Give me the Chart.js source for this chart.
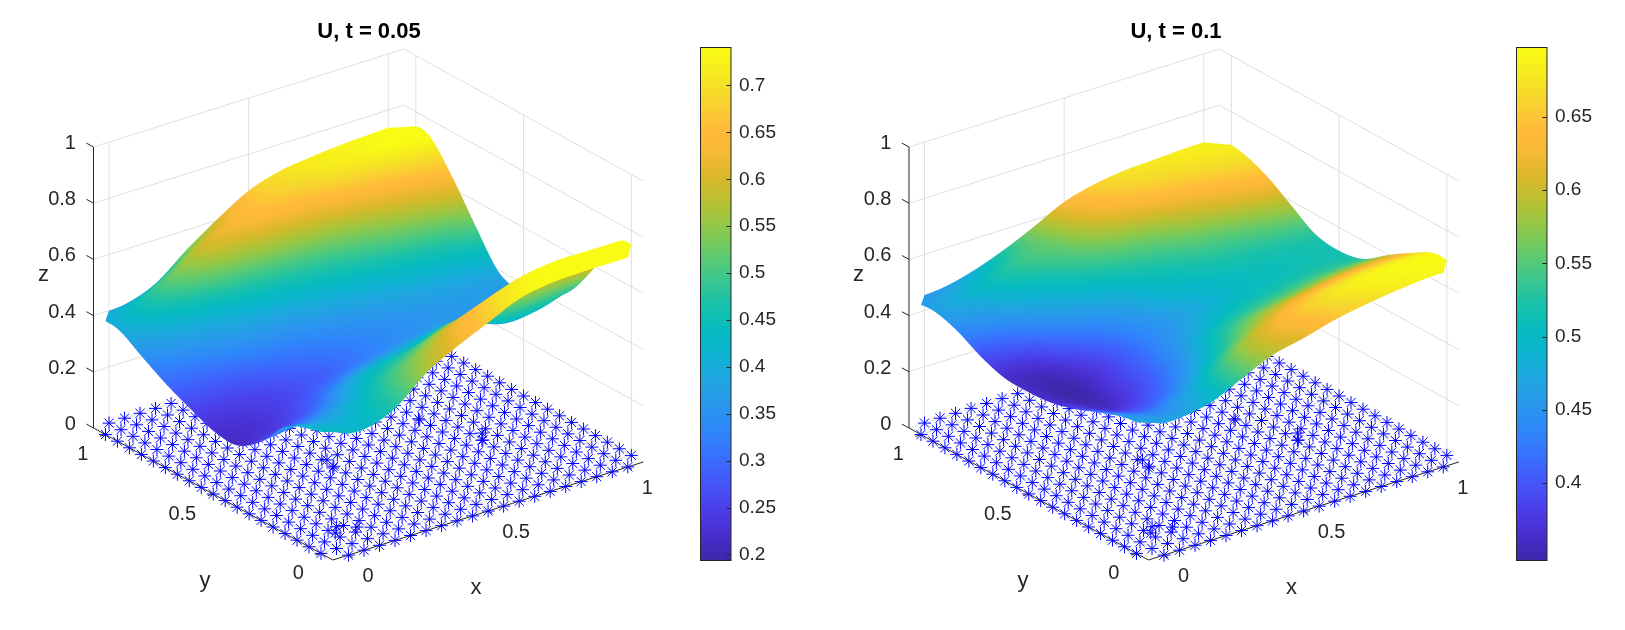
<!DOCTYPE html>
<html><head><meta charset="utf-8">
<script src="https://cdn.jsdelivr.net/npm/chart.js@4/dist/chart.umd.min.js"></script>
<style>
html,body{margin:0;padding:0;background:#fff;width:1625px;height:630px;overflow:hidden}
canvas{position:absolute}
</style></head><body>
<canvas id="p1" width="700" height="630" style="left:0;top:0;width:700px;height:630px"></canvas>
<canvas id="p2" width="700" height="630" style="left:815px;top:0;width:700px;height:630px"></canvas>
<canvas id="c1" width="110" height="514" style="left:700px;top:47px;width:110px;height:514px"></canvas>
<canvas id="c2" width="109" height="514" style="left:1516px;top:47px;width:109px;height:514px"></canvas>
<script>
const axisLimits=[-0.0556,1.0556];
const xyTicks=[0,0.5,1];
const zTicks=[0,0.2,0.4,0.6,0.8,1];
const nodeAxis=[-1/18,0,1/18,2/18,3/18,4/18,5/18,6/18,7/18,8/18,9/18,10/18,11/18,12/18,13/18,14/18,15/18,16/18,17/18,1,19/18];
const extraNodes=[[0.344,0.49],[0.324,0.437],[0.135,0.08],[0.09,0.116],[0.061,0.085],[0.808,0.372],[0.781,0.333],[0.72,0.547]];
const surfNodes=[-1/18,1/18,3/18,5/18,7/18,9/18,11/18,13/18,15/18,17/18,19/18];
const surfaceA=[
[.44,.43,.47,.56,.62,.67,.72,.74,.745,.745,.745],
[.42,.41,.45,.52,.58,.64,.69,.725,.74,.74,.74],
[.38,.365,.40,.46,.50,.55,.58,.61,.62,.62,.60],
[.28,.30,.33,.40,.43,.45,.49,.47,.43,.44,.47],
[.22,.235,.27,.32,.36,.38,.40,.41,.39,.39,.395],
[.225,.23,.25,.275,.30,.325,.345,.36,.365,.37,.37],
[.26,.26,.27,.29,.31,.33,.35,.365,.375,.38,.39],
[.30,.31,.33,.35,.36,.38,.40,.42,.44,.46,.51],
[.35,.38,.41,.44,.46,.48,.50,.53,.57,.61,.642],
[.40,.47,.54,.60,.63,.65,.66,.69,.71,.735,.745],
[.40,.405,.445,.53,.605,.67,.705,.72,.73,.735,.74]];
const surfaceB=[
[.47,.47,.49,.54,.59,.615,.645,.665,.68,.69,.69],
[.46,.44,.47,.53,.59,.63,.66,.68,.69,.695,.695],
[.43,.40,.42,.47,.53,.58,.61,.63,.645,.65,.65],
[.395,.365,.39,.43,.49,.53,.55,.565,.58,.59,.595],
[.37,.35,.38,.415,.455,.49,.51,.52,.53,.535,.535],
[.362,.349,.375,.41,.445,.47,.49,.505,.51,.515,.517],
[.365,.365,.40,.43,.46,.49,.505,.515,.52,.525,.53],
[.395,.41,.44,.47,.495,.515,.53,.545,.555,.57,.585],
[.44,.455,.485,.51,.535,.555,.57,.59,.61,.63,.64],
[.465,.485,.515,.54,.56,.60,.63,.65,.66,.67,.675],
[.455,.46,.485,.525,.575,.63,.66,.675,.68,.685,.685]];
const colorLimitsA=[0.1936,0.7405];
const colorLimitsB=[0.347,0.6975];
const colorTicksA=[0.2,0.25,0.3,0.35,0.4,0.45,0.5,0.55,0.6,0.65,0.7];
const colorTicksB=[0.4,0.45,0.5,0.55,0.6,0.65];
const parulaStops=[[0,62,38,168],[.05,72,45,205],[.1,75,62,232],[.15,68,85,250],[.2,57,110,253],[.25,47,134,250],[.3,42,150,238],[.35,32,165,225],[.4,15,178,210],[.45,6,187,192],[.5,25,193,170],[.55,60,199,140],[.6,100,202,108],[.65,145,200,72],[.7,185,192,50],[.75,220,184,42],[.8,248,185,52],[.84,255,186,58],[.88,250,205,50],[.92,245,222,40],[.96,247,238,28],[1,249,251,21]];

const FONT='"Liberation Sans",Arial,sans-serif', DARK='#262626', GRID='#dfdfdf';
function project(x,y,z){return {x:336.5+279.3*x-215.5*y, y:548.5-88.2*x-118.8*y-281*z};}
function parula(t){t=Math.max(0,Math.min(1,t));
  for(let i=1;i<parulaStops.length;i++){const a=parulaStops[i-1],b=parulaStops[i];
    if(t<=b[0]){const f=(t-a[0])/(b[0]-a[0]);
      return [1,2,3].map(k=>Math.round(a[k]+(b[k]-a[k])*f));}}
  return [249,251,21];}
function cr(p0,p1,p2,p3,t){return 0.5*((2*p1)+(-p0+p2)*t+(2*p0-5*p1+4*p2-p3)*t*t+(-p0+3*p1-3*p2+p3)*t*t*t);}
function sampleZ(G,x,y){
  const n=surfNodes.length, h=surfNodes[1]-surfNodes[0];
  let fx=(x-surfNodes[0])/h, fy=(y-surfNodes[0])/h;
  let ix=Math.min(n-2,Math.max(0,Math.floor(fx))), iy=Math.min(n-2,Math.max(0,Math.floor(fy)));
  const tx=fx-ix, ty=fy-iy, cl=i=>Math.max(0,Math.min(n-1,i));
  const col=[];
  for(let j=-1;j<=2;j++){const r=G[cl(iy+j)];col.push(cr(r[cl(ix-1)],r[ix],r[ix+1],r[cl(ix+2)],tx));}
  return cr(col[0],col[1],col[2],col[3],ty);
}
function gridSegments(){
  const [a,b]=axisLimits, s=[];
  const add=(p,q)=>{s.push(project(...p),project(...q),{x:NaN,y:NaN});};
  xyTicks.forEach(t=>{add([t,a,0],[t,b,0]);add([a,t,0],[b,t,0]);add([t,b,0],[t,b,1]);add([b,t,0],[b,t,1]);});
  zTicks.forEach(z=>{add([a,b,z],[b,b,z]);add([b,b,z],[b,a,z]);});
  return s;
}
function axisSegments(){
  const [a,b]=axisLimits, s=[];
  const add=(p,q)=>{s.push(project(...p),project(...q),{x:NaN,y:NaN});};
  add([a,b,0],[a,b,1]);add([a,a,0],[b,a,0]);add([a,a,0],[a,b,0]);
  zTicks.forEach(z=>add([a,b,z],[a,b+0.033,z]));
  xyTicks.forEach(t=>{add([t,a,0],[t,a-0.02,0]);add([a,t,0],[a-0.02,t,0]);});
  return s;
}
function starNodes(){
  const pts=[], n=nodeAxis.length-1;
  nodeAxis.forEach((y,j)=>nodeAxis.forEach((x,i)=>{
    if((i==0||i==n)&&(j==0||j==n))return;
    pts.push(project(x,y,0));}));
  extraNodes.forEach(e=>pts.push(project(e[0],e[1],0)));
  return pts;
}
function surfacePlugin(G,lim){return {id:'surface',afterDatasetsDraw(chart){
  const ctx=chart.ctx, sx=chart.scales.x, sy=chart.scales.y, a=-1/18, b=19/18, m=120, d=(b-a)/m, S=3;
  const CW=chart.width, CH=chart.height, W=CW*S, H=CH*S, zb=new Float32Array(W*H).fill(NaN);
  const P=[];
  for(let i=0;i<=m;i++){const row=[];const x=a+i*d;
    for(let j=0;j<=m;j++){const y=a+j*d, z=sampleZ(G,x,y), p=project(x,y,z);
      row.push({u:sx.getPixelForValue(p.x)*S,v:sy.getPixelForValue(p.y)*S,z,x,y});}
    P.push(row);}
  const tri=(A,B,C)=>{
    const den=(B.v-C.v)*(A.u-C.u)+(C.u-B.u)*(A.v-C.v);
    if(Math.abs(den)<1e-6)return;
    const x0=Math.max(0,Math.floor(Math.min(A.u,B.u,C.u))),x1=Math.min(W-1,Math.ceil(Math.max(A.u,B.u,C.u)));
    const y0=Math.max(0,Math.floor(Math.min(A.v,B.v,C.v))),y1=Math.min(H-1,Math.ceil(Math.max(A.v,B.v,C.v)));
    for(let py=y0;py<=y1;py++)for(let px=x0;px<=x1;px++){
      const qx=px+.5,qy=py+.5;
      const l1=((B.v-C.v)*(qx-C.u)+(C.u-B.u)*(qy-C.v))/den;
      const l2=((C.v-A.v)*(qx-C.u)+(A.u-C.u)*(qy-C.v))/den;
      const l3=1-l1-l2;
      if(l1<-1e-3||l2<-1e-3||l3<-1e-3)continue;
      const ux=l1*A.x+l2*B.x+l3*C.x, uy=l1*A.y+l2*B.y+l3*C.y;
      if(ux+uy<-1/18||ux-uy>19/18||uy-ux>19/18||ux+uy>37/18)continue;
      zb[py*W+px]=l1*A.z+l2*B.z+l3*C.z;
    }};
  for(let i=m-1;i>=0;i--)for(let j=m-1;j>=0;j--){
    tri(P[i][j],P[i+1][j],P[i+1][j+1]);tri(P[i][j],P[i+1][j+1],P[i][j+1]);
  }
  const off=document.createElement('canvas');off.width=CW;off.height=CH;
  const oc=off.getContext('2d'),img=oc.createImageData(CW,CH);
  const lut=[];for(let k=0;k<=1024;k++)lut.push(parula(k/1024));
  for(let py=0;py<CH;py++)for(let px=0;px<CW;px++){
    let r=0,g=0,bl=0,n=0;
    for(let sy2=0;sy2<S;sy2++)for(let sx2=0;sx2<S;sx2++){
      const z=zb[(py*S+sy2)*W+px*S+sx2];if(z!==z)continue;
      const t=Math.max(0,Math.min(1,(z-lim[0])/(lim[1]-lim[0])));
      const c=lut[Math.round(t*1024)];r+=c[0];g+=c[1];bl+=c[2];n++;}
    if(!n)continue;
    const k=(py*CW+px)*4;
    img.data[k]=r/n;img.data[k+1]=g/n;img.data[k+2]=bl/n;img.data[k+3]=255*n/(S*S);}
  oc.putImageData(img,0,0);
  ctx.drawImage(off,0,0);
}};}
function textPlugin(title,titleX,xL,yL,zL){return {id:'texts',afterDraw(chart){
  const ctx=chart.ctx, sx=chart.scales.x, sy=chart.scales.y, [a,b]=axisLimits;
  const put=(s,u,v,al)=>{ctx.textAlign=al;ctx.textBaseline='middle';ctx.fillText(s,sx.getPixelForValue(u),sy.getPixelForValue(v));};
  ctx.save();ctx.fillStyle=DARK;ctx.font='20px '+FONT;
  zTicks.forEach(z=>{const p=project(a,b,z);put(String(z),p.x-17.5,p.y-3.5,'right');});
  xyTicks.forEach(t=>{let p=project(t,a,0);put(String(t),p.x+14,p.y+21.5,'left');
    p=project(a,t,0);put(String(t),p.x-17,p.y+20,'right');});
  ctx.font='22px '+FONT;
  put('x',xL,588,'center');put('y',yL,581,'center');put('z',zL,275,'center');
  ctx.fillStyle='#000';ctx.font='bold 22px '+FONT;
  put(title,titleX,32,'center');
  ctx.restore();
}};}
function panel(id,G,lim,uMin,title,titleX,xL,yL,zL){
  new Chart(document.getElementById(id),{type:'scatter',
    data:{datasets:[
      {label:'axes',data:axisSegments(),showLine:true,borderColor:DARK,borderWidth:1,pointRadius:0,spanGaps:false,order:2},
      {label:'nodes',data:starNodes(),pointStyle:'star',pointRadius:6.5,pointBorderColor:'#0000ff',pointBackgroundColor:'#0000ff',pointBorderWidth:1,showLine:false,order:1},
      {label:'grid',data:gridSegments(),showLine:true,borderColor:GRID,borderWidth:1,pointRadius:0,spanGaps:false,order:3}
    ]},
    options:{responsive:false,animation:false,devicePixelRatio:1,layout:{padding:0,autoPadding:false},
      plugins:{legend:{display:false},tooltip:{enabled:false},title:{display:false}},
      scales:{x:{type:'linear',display:false,min:uMin,max:uMin+700},y:{type:'linear',display:false,min:0,max:630,reverse:true}}},
    plugins:[surfacePlugin(G,lim),textPlugin(title,titleX,xL,yL,zL)]});
}
function colorbar(id,lim,ticks){
  new Chart(document.getElementById(id),{type:'bar',
    data:{labels:['U'],datasets:[{data:[lim],barPercentage:1,categoryPercentage:1,borderWidth:0,
      backgroundColor(c){const a=c.chart.chartArea;if(!a)return '#000';
        const g=c.chart.ctx.createLinearGradient(0,a.bottom,0,a.top);
        parulaStops.forEach(s=>g.addColorStop(s[0],'rgb('+s[1]+','+s[2]+','+s[3]+')'));return g;}}]},
    options:{responsive:false,animation:false,devicePixelRatio:1,layout:{padding:{left:0.5,right:0,top:0.5,bottom:0.5},autoPadding:false},
      plugins:{legend:{display:false},tooltip:{enabled:false}},
      scales:{x:{display:false},
        y:{position:'right',min:lim[0],max:lim[1],grid:{display:false},border:{display:false},
          afterBuildTicks(s){s.ticks=ticks.map(v=>({value:v}));},
          afterFit(s){s.width=s.chart.width-31;s.paddingTop=0;s.paddingBottom=0;},
          ticks:{color:DARK,font:{family:FONT,size:19},padding:0,autoSkip:false,maxRotation:0,
            callback(v){return String(+v.toFixed(2));}}}}},
    plugins:[{id:'frame',afterDraw(chart){
      const ctx=chart.ctx,a=chart.chartArea,s=chart.scales.y;
      ctx.save();ctx.strokeStyle=DARK;ctx.lineWidth=1;ctx.strokeRect(a.left,a.top,a.right-a.left,a.bottom-a.top);
      ticks.forEach(v=>{const p=Math.round(s.getPixelForValue(v))+.5;ctx.beginPath();ctx.moveTo(a.right-4.6,p);ctx.lineTo(a.right,p);ctx.stroke();});
      ctx.restore();}}]});
}
panel('p1',surfaceA,colorLimitsA,0,'U, t = 0.05',369,476,205,43.5);
panel('p2',surfaceB,colorLimitsB,-0.5,'U, t = 0.1',360.5,476,207.5,43);
colorbar('c1',colorLimitsA,colorTicksA);
colorbar('c2',colorLimitsB,colorTicksB);
</script></body></html>
